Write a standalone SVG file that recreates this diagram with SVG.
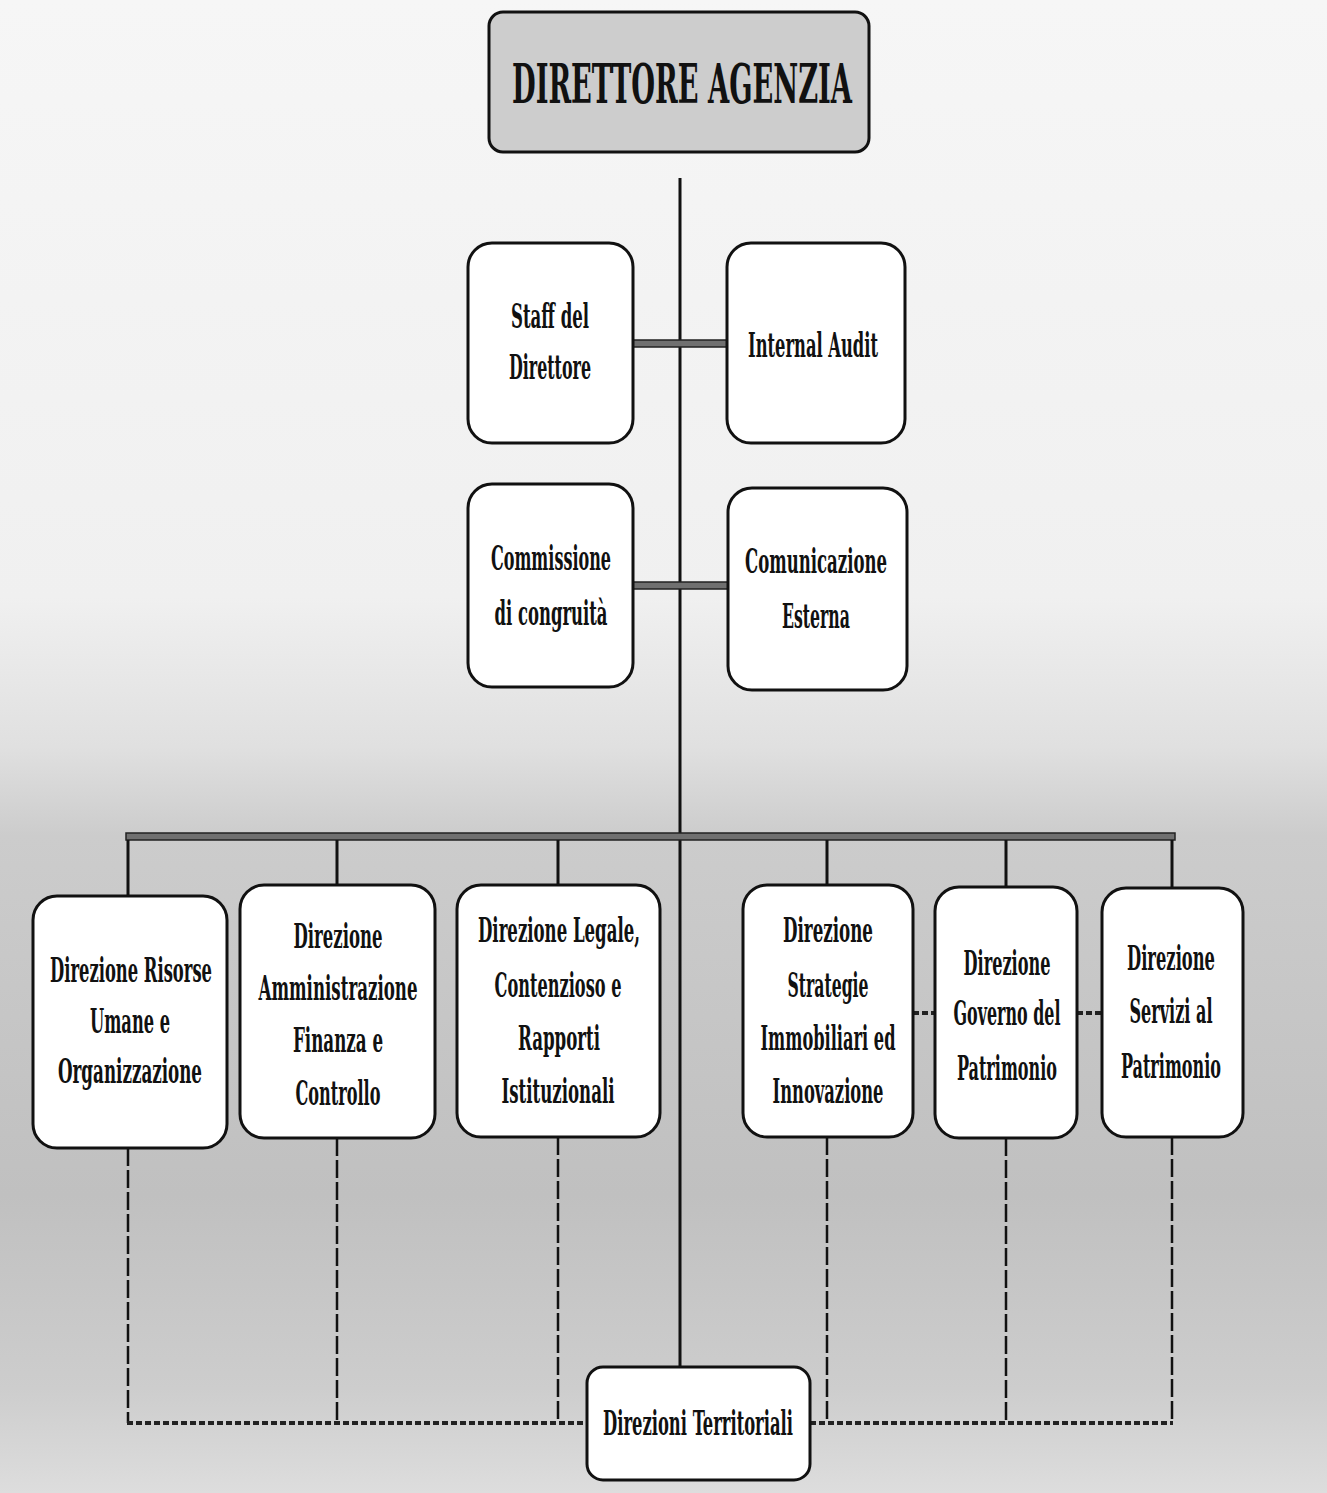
<svg xmlns="http://www.w3.org/2000/svg" width="1327" height="1493" viewBox="0 0 1327 1493">
  <defs>
    <linearGradient id="bg" x1="0" y1="0" x2="0" y2="1">
      <stop offset="0" stop-color="#f6f6f6"/>
      <stop offset="0.40" stop-color="#f0f0f0"/>
      <stop offset="0.50" stop-color="#e0e0e0"/>
      <stop offset="0.56" stop-color="#cccccc"/>
      <stop offset="0.80" stop-color="#c0c0c0"/>
      <stop offset="0.93" stop-color="#cdcdcd"/>
      <stop offset="1" stop-color="#dddddd"/>
    </linearGradient>
    <style>
      .box { fill: #ffffff; stroke: #111111; stroke-width: 3; }
      .top { fill: #cdcdcd; stroke: #111111; stroke-width: 3; }
      .t { font-family: "DejaVu Serif Condensed", "DejaVu Serif", "Liberation Serif", serif; font-weight: bold; font-size: 33px; fill: #111111; text-anchor: middle; }
      .tt { font-family: "DejaVu Serif Condensed", "DejaVu Serif", "Liberation Serif", serif; font-weight: bold; font-size: 54px; fill: #111111; text-anchor: middle; }
      .solid { stroke: #111111; stroke-width: 3; fill: none; }
      .bar { fill: #707070; stroke: #222222; stroke-width: 1.5; }
      .dv { stroke: #111111; stroke-width: 2.5; stroke-dasharray: 18 4; fill: none; }
      .dh { stroke: #222222; stroke-width: 4; stroke-dasharray: 6 3; fill: none; }
    </style>
  </defs>

  <rect x="0" y="0" width="1327" height="1493" fill="url(#bg)"/>

  <g id="connectors">
    <line class="solid" x1="680" y1="178" x2="680" y2="1367"/>
    <rect class="bar" x="633" y="340" width="94" height="7"/>
    <rect class="bar" x="633" y="582" width="95" height="7"/>
    <rect class="bar" x="126" y="833" width="1049" height="7"/>
    <line class="solid" x1="128" y1="840" x2="128" y2="897"/>
    <line class="solid" x1="337" y1="840" x2="337" y2="886"/>
    <line class="solid" x1="558" y1="840" x2="558" y2="886"/>
    <line class="solid" x1="827" y1="840" x2="827" y2="886"/>
    <line class="solid" x1="1006" y1="840" x2="1006" y2="888"/>
    <line class="solid" x1="1172" y1="840" x2="1172" y2="889"/>
    <line class="dh" x1="913" y1="1013" x2="935" y2="1013"/>
    <line class="dh" x1="1077" y1="1013" x2="1102" y2="1013"/>
    <line class="dv" x1="128" y1="1148" x2="128" y2="1423"/>
    <line class="dv" x1="337" y1="1138" x2="337" y2="1423"/>
    <line class="dv" x1="558" y1="1137" x2="558" y2="1423"/>
    <line class="dv" x1="827" y1="1137" x2="827" y2="1423"/>
    <line class="dv" x1="1006" y1="1138" x2="1006" y2="1423"/>
    <line class="dv" x1="1172" y1="1137" x2="1172" y2="1423"/>
    <line class="dh" x1="127" y1="1423" x2="587" y2="1423"/>
    <line class="dh" x1="810" y1="1423" x2="1173" y2="1423"/>
  </g>

  <g id="direttore">
    <rect class="top" x="489" y="12" width="380" height="140" rx="14"/>
    <text class="tt" x="682" y="103" textLength="340" lengthAdjust="spacingAndGlyphs">DIRETTORE AGENZIA</text>
  </g>

  <g id="staff">
    <rect class="box" x="468" y="243" width="165" height="200" rx="24"/>
    <text class="t" x="550" y="328" textLength="78" lengthAdjust="spacingAndGlyphs">Staff del</text>
    <text class="t" x="550" y="379" textLength="82" lengthAdjust="spacingAndGlyphs">Direttore</text>
  </g>

  <g id="internal-audit">
    <rect class="box" x="727" y="243" width="178" height="200" rx="24"/>
    <text class="t" x="813" y="357" textLength="130" lengthAdjust="spacingAndGlyphs">Internal Audit</text>
  </g>

  <g id="commissione">
    <rect class="box" x="468" y="484" width="165" height="203" rx="24"/>
    <text class="t" x="551" y="570" textLength="120" lengthAdjust="spacingAndGlyphs">Commissione</text>
    <text class="t" x="551" y="625" textLength="113" lengthAdjust="spacingAndGlyphs">di congruità</text>
  </g>

  <g id="comunicazione">
    <rect class="box" x="728" y="488" width="179" height="202" rx="24"/>
    <text class="t" x="816" y="573" textLength="142" lengthAdjust="spacingAndGlyphs">Comunicazione</text>
    <text class="t" x="816" y="628" textLength="68" lengthAdjust="spacingAndGlyphs">Esterna</text>
  </g>

  <g id="risorse-umane">
    <rect class="box" x="33" y="896" width="194" height="252" rx="24"/>
    <text class="t" x="131" y="982" textLength="162" lengthAdjust="spacingAndGlyphs">Direzione Risorse</text>
    <text class="t" x="130" y="1033" textLength="80" lengthAdjust="spacingAndGlyphs">Umane e</text>
    <text class="t" x="130" y="1083" textLength="144" lengthAdjust="spacingAndGlyphs">Organizzazione</text>
  </g>

  <g id="amministrazione">
    <rect class="box" x="240" y="885" width="195" height="253" rx="24"/>
    <text class="t" x="338" y="948" textLength="89" lengthAdjust="spacingAndGlyphs">Direzione</text>
    <text class="t" x="338" y="1000" textLength="159" lengthAdjust="spacingAndGlyphs">Amministrazione</text>
    <text class="t" x="338" y="1052" textLength="90" lengthAdjust="spacingAndGlyphs">Finanza e</text>
    <text class="t" x="338" y="1105" textLength="85" lengthAdjust="spacingAndGlyphs">Controllo</text>
  </g>

  <g id="legale">
    <rect class="box" x="457" y="885" width="203" height="252" rx="24"/>
    <text class="t" x="559" y="942" textLength="162" lengthAdjust="spacingAndGlyphs">Direzione Legale,</text>
    <text class="t" x="558" y="997" textLength="127" lengthAdjust="spacingAndGlyphs">Contenzioso e</text>
    <text class="t" x="559" y="1050" textLength="82" lengthAdjust="spacingAndGlyphs">Rapporti</text>
    <text class="t" x="558" y="1103" textLength="113" lengthAdjust="spacingAndGlyphs">Istituzionali</text>
  </g>

  <g id="strategie">
    <rect class="box" x="743" y="885" width="170" height="252" rx="24"/>
    <text class="t" x="828" y="942" textLength="90" lengthAdjust="spacingAndGlyphs">Direzione</text>
    <text class="t" x="828" y="997" textLength="81" lengthAdjust="spacingAndGlyphs">Strategie</text>
    <text class="t" x="828" y="1050" textLength="135" lengthAdjust="spacingAndGlyphs">Immobiliari ed</text>
    <text class="t" x="828" y="1103" textLength="111" lengthAdjust="spacingAndGlyphs">Innovazione</text>
  </g>

  <g id="governo">
    <rect class="box" x="935" y="887" width="142" height="251" rx="24"/>
    <text class="t" x="1007" y="975" textLength="87" lengthAdjust="spacingAndGlyphs">Direzione</text>
    <text class="t" x="1007" y="1025" textLength="107" lengthAdjust="spacingAndGlyphs">Governo del</text>
    <text class="t" x="1007" y="1080" textLength="100" lengthAdjust="spacingAndGlyphs">Patrimonio</text>
  </g>

  <g id="servizi">
    <rect class="box" x="1102" y="888" width="141" height="249" rx="24"/>
    <text class="t" x="1171" y="970" textLength="88" lengthAdjust="spacingAndGlyphs">Direzione</text>
    <text class="t" x="1171" y="1023" textLength="83" lengthAdjust="spacingAndGlyphs">Servizi al</text>
    <text class="t" x="1171" y="1078" textLength="100" lengthAdjust="spacingAndGlyphs">Patrimonio</text>
  </g>

  <g id="territoriali">
    <rect class="box" x="587" y="1367" width="223" height="113" rx="16"/>
    <text class="t" x="698" y="1435" textLength="190" lengthAdjust="spacingAndGlyphs">Direzioni Territoriali</text>
  </g>
</svg>
